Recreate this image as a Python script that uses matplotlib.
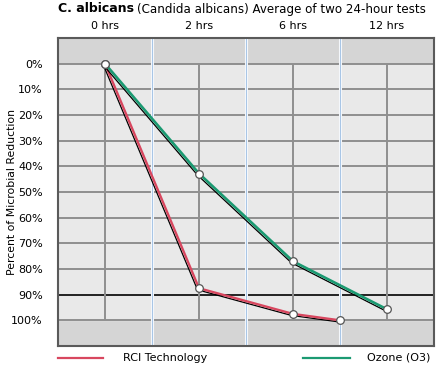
import matplotlib
matplotlib.use("Agg")
import matplotlib.pyplot as plt
import matplotlib.patheffects as pe
from matplotlib.lines import Line2D

# data
time_labels = ["0 hrs", "2 hrs", "6 hrs", "12 hrs"]
rci_x = [0, 1, 2, 2.5]
rci_reduction = [0, 87.5, 97.5, 100]
ozone_x = [0, 1, 2, 3]
ozone_reduction = [0, 42.8, 77, 95.7]
y_ticks = [0, 10, 20, 30, 40, 50, 60, 70, 80, 90, 100]
y_ticklabels = [f"{v}%" for v in y_ticks]

RED = "#d8475f"
GREEN = "#1b9a72"
plt.rcParams["font.family"] = "DejaVu Sans"

fig = plt.figure(figsize=(4.46, 3.73), dpi=100)
ax = fig.add_axes([58 / 446, 1 - 346 / 373, 376 / 446, 308 / 373])

ax.set_xlim(-0.5, 3.5)
ax.set_ylim(110, -10)

# backgrounds: darker bands outside 0-100%
ax.set_facecolor("#d5d5d5")
ax.axhspan(0, 100, color="#e9e9e9", zorder=0)

# grid
for v in y_ticks:
    ax.axhline(v, color="black" if v == 90 else "#8f8f8f", lw=1.2 if v == 90 else 1.4, zorder=1)
for i in range(len(time_labels)):
    ax.vlines(i, 0, 100, color="#8f8f8f", lw=1.4, zorder=1)
for b in [0.5, 1.5, 2.5]:
    ax.axvline(b, color="white", lw=2.2, zorder=1)
    ax.axvline(b, color="#a9c6e6", lw=0.9, zorder=1)

shadow = [pe.SimpleLineShadow(offset=(-1.1, -1.1), shadow_color="black", alpha=1, linewidth=0.9),
          pe.Normal()]
ax.plot(rci_x, rci_reduction, color=RED, lw=1.7, zorder=3, path_effects=shadow)
ax.plot(ozone_x, ozone_reduction, color=GREEN, lw=1.9, zorder=3, path_effects=shadow)
ax.plot(rci_x, rci_reduction, "o", ms=5.5, mfc="white", mec="#555555", mew=0.9, zorder=4)
ax.plot(ozone_x, ozone_reduction, "o", ms=5.5, mfc="white", mec="#555555", mew=0.9, zorder=4)

ax.set_yticks(y_ticks)
ax.set_yticklabels(y_ticklabels, fontsize=8)
ax.set_xticks(range(len(time_labels)))
ax.set_xticklabels(time_labels, fontsize=8)
ax.xaxis.tick_top()
ax.tick_params(axis="x", length=0, pad=5)
ax.tick_params(axis="y", length=0, pad=11)
ax.set_ylabel("Percent of Microbial Reduction", fontsize=7.8)
ax.yaxis.set_label_coords(-0.108, 0.5)

for s in ax.spines.values():
    s.set_color("#5a5a5a")
    s.set_linewidth(1.5)

# title: bold species then normal text
fig.canvas.draw()
r = fig.canvas.get_renderer()
t1 = fig.text(58 / 446, 1 - 9 / 373, "C. albicans", fontsize=9, fontweight="bold", va="center")
bb = t1.get_window_extent(renderer=r)
fig.text(bb.x1 / fig.bbox.width + 0.006, 1 - 9 / 373, "(Candida albicans) Average of two 24-hour tests",
         fontsize=8.6, va="center")

# legend at the bottom
ly = 1 - 358 / 373
fig.add_artist(Line2D([58 / 446, 103 / 446], [ly, ly], color=RED, lw=1.6))
fig.text(123 / 446, ly, "RCI Technology", fontsize=8, va="center")
fig.add_artist(Line2D([303 / 446, 350 / 446], [ly, ly], color=GREEN, lw=1.6))
fig.text(367 / 446, ly, "Ozone (O3)", fontsize=8, va="center")

fig.savefig("out.png", dpi=100)
